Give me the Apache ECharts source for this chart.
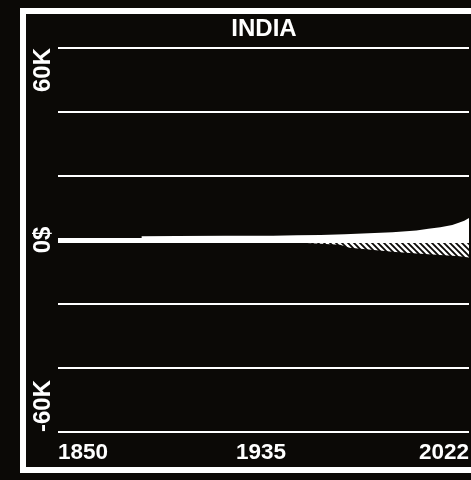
<!DOCTYPE html>
<html><head><meta charset="utf-8">
<script src="https://cdn.jsdelivr.net/npm/echarts@6/dist/echarts.min.js"></script>
<style>html,body{margin:0;padding:0;background:#0b0906;}#c{width:471px;height:480px;}</style>
</head><body><div id="c"></div>
<script>
const title = 'INDIA';
const xTickValues = [1850, 1935, 2022];
const yTickValues = [-60000, 0, 60000];
const yTickLabels = ['-60K', '0$', '60K'];
const posYears = [1885, 1900, 1920, 1940, 1950, 1960, 1970, 1980, 1990, 2000, 2005, 2010, 2015, 2018, 2020, 2022];
const posValues = [1200, 1250, 1300, 1350, 1500, 1600, 1800, 2100, 2400, 3000, 3500, 4000, 4700, 5500, 6000, 6900];
const negYears = [1950, 1960, 1968, 1972, 1980, 1990, 2000, 2010, 2018, 2022];
const negValues = [-800, -1200, -1500, -2400, -3000, -3700, -4200, -4700, -5100, -5500];

const FONT = 'Liberation Sans';
const pc = document.createElement('canvas');
pc.width = 6; pc.height = 6;
const g = pc.getContext('2d');
g.strokeStyle = '#ffffff'; g.lineWidth = 2.4;
[[-1,-1,7,7],[-1,5,1,7],[5,-1,7,1]].forEach(s => { g.beginPath(); g.moveTo(s[0],s[1]); g.lineTo(s[2],s[3]); g.stroke(); });

const chart = echarts.init(document.getElementById('c'), null, {renderer: 'canvas'});
chart.setOption({
  backgroundColor: '#0b0906',
  animation: false,
  title: {text: title, left: 264, top: 17, textAlign: 'center', padding: 0,
    textStyle: {color: '#fff', fontFamily: FONT, fontWeight: 'bold', fontSize: 24}},
  graphic: [{type: 'rect', shape: {x: 23, y: 11, width: 520, height: 459},
    style: {fill: 'none', stroke: '#fff', lineWidth: 6}, silent: true, z: 100}],
  grid: {left: 58, right: 2, top: 48, bottom: 48, containLabel: false, outerBoundsMode: 'none'},
  xAxis: {type: 'value', min: 1850, max: 2022,
    axisLine: {show: false, onZero: false}, axisTick: {show: false}, splitLine: {show: false},
    axisLabel: {customValues: xTickValues, color: '#fff', fontFamily: FONT, fontWeight: 'bold', fontSize: 22.5,
      margin: 9, alignMinLabel: 'left', alignMaxLabel: 'right', showMinLabel: true, showMaxLabel: true,
      formatter: v => String(v)}},
  yAxis: {type: 'value', min: -60000, max: 60000, interval: 20000,
    axisLine: {show: false}, axisTick: {show: false},
    splitLine: {show: true, lineStyle: {color: '#fff', width: 2}},
    axisLabel: {customValues: yTickValues, rotate: 90, color: '#fff', fontFamily: FONT, fontWeight: 'bold', fontSize: 24,
      margin: 3, alignMinLabel: 'left', alignMaxLabel: 'right', showMinLabel: true, showMaxLabel: true,
      formatter: v => yTickLabels[yTickValues.indexOf(v)] || ''}},
  series: [
    {type: 'line', data: posYears.map((y, i) => [y, posValues[i]]), symbol: 'none',
      lineStyle: {width: 0}, areaStyle: {color: '#fff', opacity: 1}, z: 3,
      markLine: {silent: true, symbol: 'none', label: {show: false},
        lineStyle: {color: '#fff', width: 5, type: 'solid'}, data: [{yAxis: 0}]}},
    {type: 'line', data: negYears.map((y, i) => [y, negValues[i]]), symbol: 'none',
      lineStyle: {width: 0}, areaStyle: {color: {image: pc, repeat: 'repeat'}, opacity: 1}, z: 2}
  ]
});
</script></body></html>
